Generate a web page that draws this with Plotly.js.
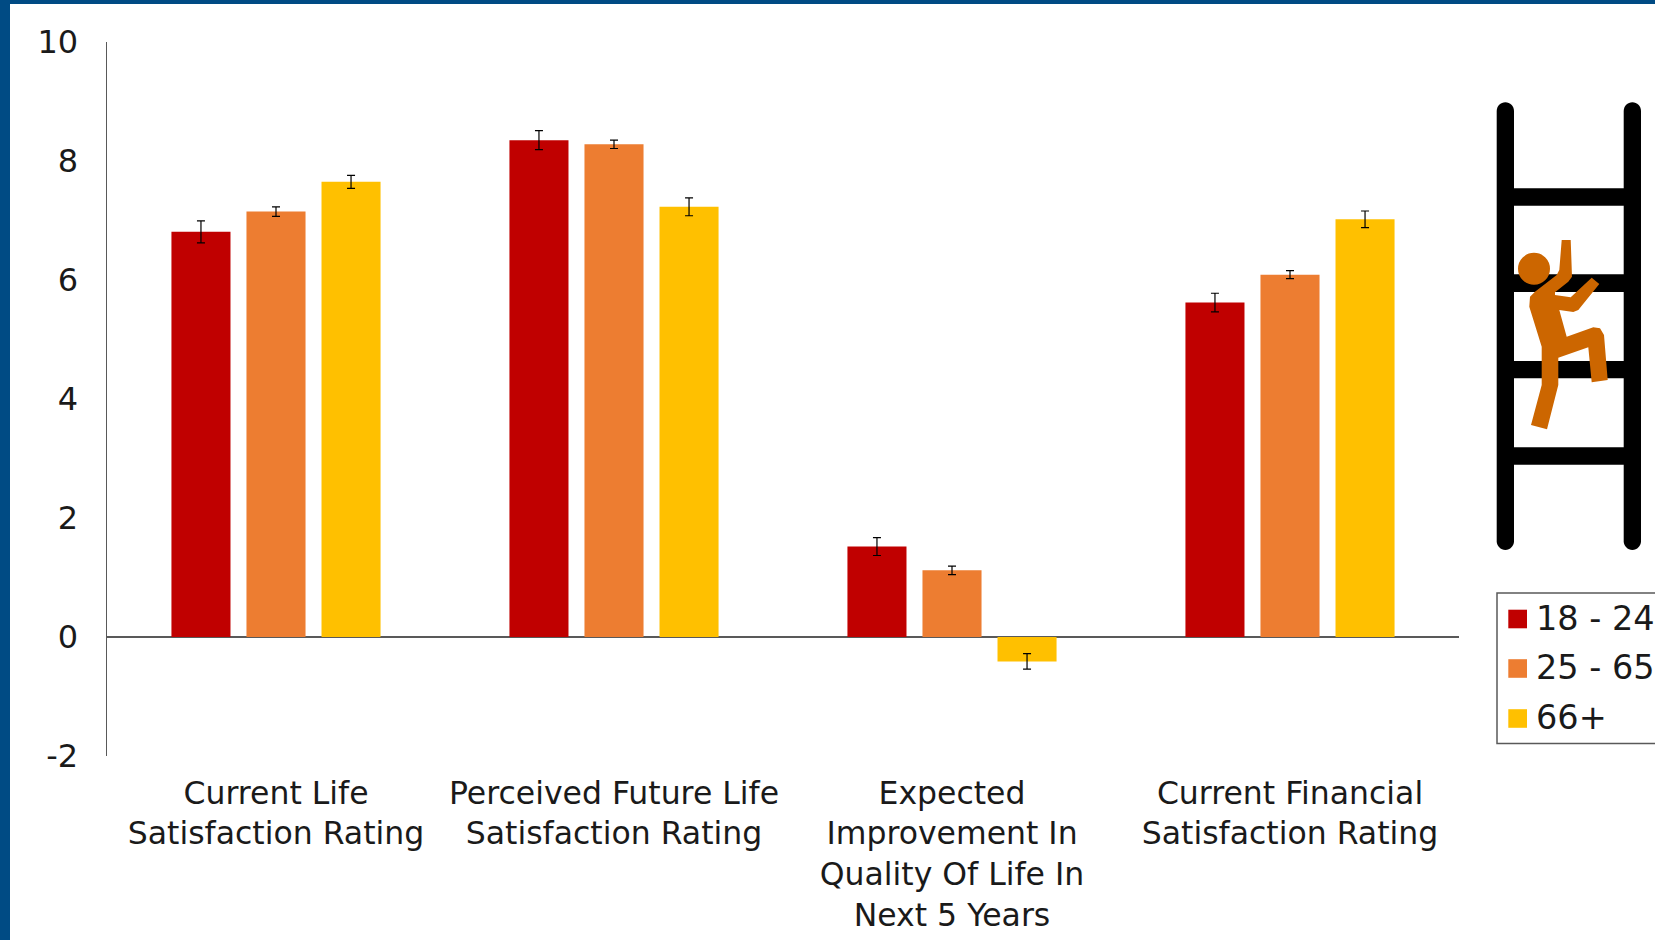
<!DOCTYPE html>
<html>
<head>
<meta charset="utf-8">
<script src="https://cdn.plot.ly/plotly-3.0.1.min.js"></script>
<style>html,body{margin:0;padding:0;background:#fff;overflow:hidden}#chart{width:1655px;height:940px}</style>
</head>
<body>
<div id="chart"></div>
<script>
// ---- data ----
const categories = [
  "Current Life<br>Satisfaction Rating",
  "Perceived Future Life<br>Satisfaction Rating",
  "Expected<br>Improvement In<br>Quality Of Life In<br>Next 5 Years",
  "Current Financial<br>Satisfaction Rating"
];
const seriesNames = ["18 - 24", "25 - 65", "66+"];
const values18to24 = [6.81, 8.35, 1.52, 5.62];
const values25to65 = [7.15, 8.28, 1.12, 6.09];
const values66plus = [7.65, 7.23, -0.41, 7.02];
const errors18to24 = [0.185, 0.16, 0.15, 0.157];
const errors25to65 = [0.08, 0.07, 0.07, 0.067];
const errors66plus = [0.11, 0.15, 0.13, 0.14];
const yTicks = [-2, 0, 2, 4, 6, 8, 10];
const colors = ["#C00000", "#ED7D31", "#FFC000"];

// ---- layout constants (pixels on the page) ----
const W = 1655, H = 940;
const M = {l: 107, r: 196, t: 42, b: 184};
const FONT = '"DejaVu Sans", Verdana, sans-serif';
const INK = "#1a1a1a", AXIS = "#595959", FRAME = "#004B84", MAN = "#CC6600";
const fx = x => (x - M.l) / (W - M.l - M.r);
const fy = y => (H - M.b - y) / (H - M.t - M.b);
const P = (x, y) => fx(x) + "," + fy(y);

function rectShape(x0, y0, x1, y1, color) {
  return {type: "rect", xref: "paper", yref: "paper", layer: "above",
    x0: fx(x0), x1: fx(x1), y0: fy(y0), y1: fy(y1),
    fillcolor: color, line: {width: 0}};
}
function railShape(x0, x1, y0, y1) {
  const r = (x1 - x0) / 2, k = r * 0.55, m = (x0 + x1) / 2;
  return {type: "path", xref: "paper", yref: "paper", layer: "above",
    fillcolor: "#000", line: {width: 0},
    path: "M" + P(x0, y0 + r) +
      " C" + P(x0, y0 + r - k) + " " + P(m - k, y0) + " " + P(m, y0) +
      " C" + P(m + k, y0) + " " + P(x1, y0 + r - k) + " " + P(x1, y0 + r) +
      " L" + P(x1, y1 - r) +
      " C" + P(x1, y1 - r + k) + " " + P(m + k, y1) + " " + P(m, y1) +
      " C" + P(m - k, y1) + " " + P(x0, y1 - r + k) + " " + P(x0, y1 - r) + " Z"};
}
function circleShape(cx, cy, r, color) {
  return {type: "circle", xref: "paper", yref: "paper", layer: "above",
    x0: fx(cx - r), x1: fx(cx + r), y0: fy(cy + r), y1: fy(cy - r),
    fillcolor: color, line: {width: 0}};
}
// climber outline, in pixels
const manOutline = [
  [1561.7,240],[1570.7,240],[1572,276.7],[1568.3,281.7],[1555,292.3],[1555,295],[1570.7,297.3],
  [1591.7,277.7],[1599.3,284],[1578.3,310],[1573.3,312],[1559.3,310],[1566.7,336.7],
  [1593.3,327.3],[1600,328.3],[1604,335],[1607.7,380],[1591.7,382.3],[1588.3,347.3],
  [1558.3,357.7],[1558.3,385],[1547,429.3],[1531,425],[1541.7,385],[1541.7,346.7],
  [1529.3,306.7],[1530,296.7],[1535,291.7],[1556.7,275],[1559.3,270]
];
const manPath = "M" + manOutline.map(p => P(p[0], p[1])).join(" L") + " Z";

const legendRows = [619, 668.5, 718.5];

const shapes = [
  rectShape(0, 0, W, 4, FRAME),
  rectShape(0, 0, 10, H, FRAME),
  railShape(1496.7, 1514, 102.3, 550),
  railShape(1623.7, 1641, 102.3, 550),
  rectShape(1510, 188.3, 1628, 205.7, "#000"),
  rectShape(1510, 274.3, 1628, 292, "#000"),
  rectShape(1510, 361, 1628, 378.3, "#000"),
  rectShape(1510, 447.3, 1628, 464.7, "#000"),
  circleShape(1534, 268.8, 16, MAN),
  {type: "path", xref: "paper", yref: "paper", layer: "above", path: manPath, fillcolor: MAN, line: {width: 0}},
  {type: "rect", xref: "paper", yref: "paper", layer: "above",
    x0: fx(1497), x1: fx(1665), y0: fy(593), y1: fy(743.5),
    fillcolor: "#fff", line: {color: AXIS, width: 1.5}}
];
legendRows.forEach((y, i) => shapes.push(rectShape(1508.3, y - 9.3, 1527, y + 9.3, colors[i])));

const annotations = seriesNames.map((name, i) => ({
  xref: "paper", yref: "paper", x: fx(1534.5), y: fy(legendRows[i] - 1),
  xanchor: "left", yanchor: "middle", showarrow: false, align: "left",
  text: name, font: {family: FONT, size: 33.5, color: INK}, borderpad: 0
}));

const allValues = [values18to24, values25to65, values66plus];
const allErrors = [errors18to24, errors25to65, errors66plus];
const traces = seriesNames.map((name, i) => ({
  type: "bar", name: name, x: categories, y: allValues[i],
  marker: {color: colors[i], line: {width: 0}},
  error_y: {type: "data", array: allErrors[i], visible: true, color: "#000", thickness: 1.2, width: 4},
  hoverinfo: "x+y+name"
}));

const layout = {
  width: W, height: H, autosize: false,
  margin: {l: M.l, r: M.r, t: M.t, b: M.b, pad: 0},
  paper_bgcolor: "#fff", plot_bgcolor: "#fff",
  showlegend: false,
  barmode: "group", bargap: 0.334, bargroupgap: 0.213,
  font: {family: FONT, size: 32, color: INK},
  xaxis: {
    type: "category", showgrid: false, showline: false, zeroline: false, ticks: "",
    automargin: false, tickangle: 0, ticklabelstandoff: 15,
    tickfont: {family: FONT, size: 31.5, color: INK}
  },
  yaxis: {
    range: [-2, 10], tickvals: yTicks, ticktext: yTicks.map(String),
    showgrid: false, showline: true, linecolor: AXIS, linewidth: 1.5,
    zeroline: true, zerolinecolor: AXIS, zerolinewidth: 1.5, ticks: "",
    automargin: false, ticklabelstandoff: 21,
    tickfont: {family: FONT, size: 32, color: INK}
  },
  shapes: shapes,
  annotations: annotations
};

Plotly.newPlot("chart", traces, layout, {displayModeBar: false, staticPlot: true});
</script>
</body>
</html>
